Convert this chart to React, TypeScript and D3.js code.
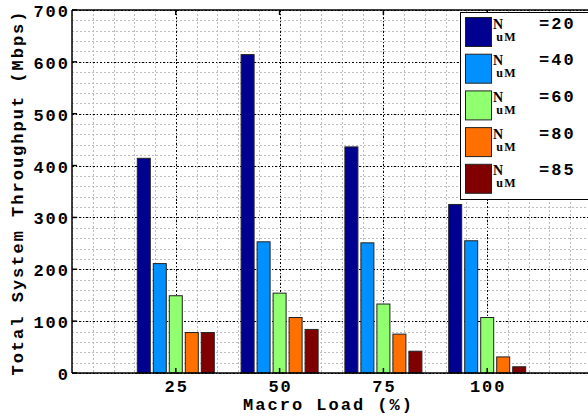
import React from "react";
import * as d3 from "d3";

// macro load (%) on the x axis
const loads = [25, 50, 75, 100];
// number of users per macro cell, one series each
const series = ["20", "40", "60", "80", "85"];
const colours = ["#000090", "#0090ff", "#90ff70", "#ff7000", "#800000"];
// throughput in Mbps, one row per load, one column per series
const throughput = [
  [414, 211, 149, 78, 78],
  [614, 253, 154, 107, 84],
  [436, 251, 133, 75, 42],
  [325, 255, 107, 31, 12],
];
const yTicks = [0, 100, 200, 300, 400, 500, 600, 700];

const W = 588;
const H = 417;
const left = 72;
const right = 591;
const top = 10;
const bottom = 373;

const mono = "'Liberation Mono', 'DejaVu Sans Mono', monospace";
const serif = "'Liberation Serif', 'DejaVu Serif', serif";

export default function App() {
  const x = d3.scaleLinear().domain([0, 125]).range([left, right]);
  const y = d3.scaleLinear().domain([0, 700]).range([bottom, top]);
  const inner = d3.scaleBand().domain(series).range([-38.5, 38.5]).paddingInner(0.1875);

  const minorX = d3.range(0, 126, 5);
  const minorY = d3.range(0, 701, 20);
  const px = (v: number) => Math.round(v) + 0.5;

  return (
    <div style={{ position: "absolute", left: 0, top: 0 }}>
      <svg width={W} height={H} style={{ display: "block", background: "#fff" }}>
        {/* minor grid */}
        <path
          d={minorX.map(v => `M${px(x(v))},${top}V${bottom}`).join("") + minorY.map(v => `M${left},${px(y(v))}H${right}`).join("")}
          fill="none" stroke="#bdbdbd" strokeWidth={1} strokeDasharray="2,2" shapeRendering="crispEdges"
        />
        {/* major grid */}
        <path
          d={loads.map(v => `M${px(x(v))},${top}V${bottom}`).join("") + yTicks.map(v => `M${left},${px(y(v))}H${right}`).join("")}
          fill="none" stroke="#000" strokeWidth={1} strokeDasharray="1.5,2" shapeRendering="crispEdges"
        />

        {/* bars */}
        {loads.map((load, i) => (
          <g key={load}>
            {series.map((s, j) => (
              <rect
                key={s}
                x={x(load) + (inner(s) as number)}
                y={y(throughput[i][j])}
                width={inner.bandwidth()}
                height={y(0) - y(throughput[i][j])}
                fill={colours[j]}
                stroke="#222"
                strokeWidth={1}
              />
            ))}
          </g>
        ))}

        {/* axes box */}
        <g stroke="#000" strokeWidth={1.5} fill="none">
          <line x1={left} x2={right} y1={bottom} y2={bottom} />
          <line x1={left} x2={right} y1={top} y2={top} />
          <line x1={left} x2={left} y1={top} y2={bottom} />
          {loads.map(v => (
            <g key={"t" + v}>
              <line x1={x(v)} x2={x(v)} y1={bottom} y2={bottom - 5} />
              <line x1={x(v)} x2={x(v)} y1={top} y2={top + 5} />
            </g>
          ))}
          {yTicks.map(v => <line key={"ty" + v} x1={left} x2={left + 5} y1={y(v)} y2={y(v)} />)}
        </g>

        {/* tick labels */}
        <g fontFamily={mono} fontWeight="bold" fontSize={17} letterSpacing={2} fill="#000">
          {yTicks.map(v => (
            <text key={"ly" + v} x={left - 2} y={y(v) + 7} textAnchor="end">{v}</text>
          ))}
          {loads.map(v => (
            <text key={"lx" + v} x={x(v) + 1} y={bottom + 19} textAnchor="middle">{v}</text>
          ))}
          <text x={(left + right) / 2 - 3} y={410} textAnchor="middle">Macro Load (%)</text>
          <text transform={`translate(23,${(top + bottom) / 2 + 1}) rotate(-90)`} textAnchor="middle">
            Total System Throughput (Mbps)
          </text>
        </g>

        {/* legend */}
        <g>
          <rect x={460.5} y={12.5} width={140} height={187} fill="#fff" stroke="#000" strokeWidth={1} />
          {series.map((s, j) => {
            const ry = 17.5 + j * 36.7;
            return (
              <g key={"lg" + s}>
                <rect x={465.5} y={ry} width={26} height={29} fill={colours[j]} stroke="#222" strokeWidth={1} />
                <text x={493} y={ry + 11} fontFamily={serif} fontWeight="bold" fontSize={14}>
                  N
                  <tspan dx={-7} dy={12} fontSize={12} letterSpacing={1.5}>uM</tspan>
                </text>
                <text x={539} y={ry + 11} fontFamily={mono} fontWeight="bold" fontSize={17} letterSpacing={2}>={s}</text>
              </g>
            );
          })}
        </g>
      </svg>
    </div>
  );
}
